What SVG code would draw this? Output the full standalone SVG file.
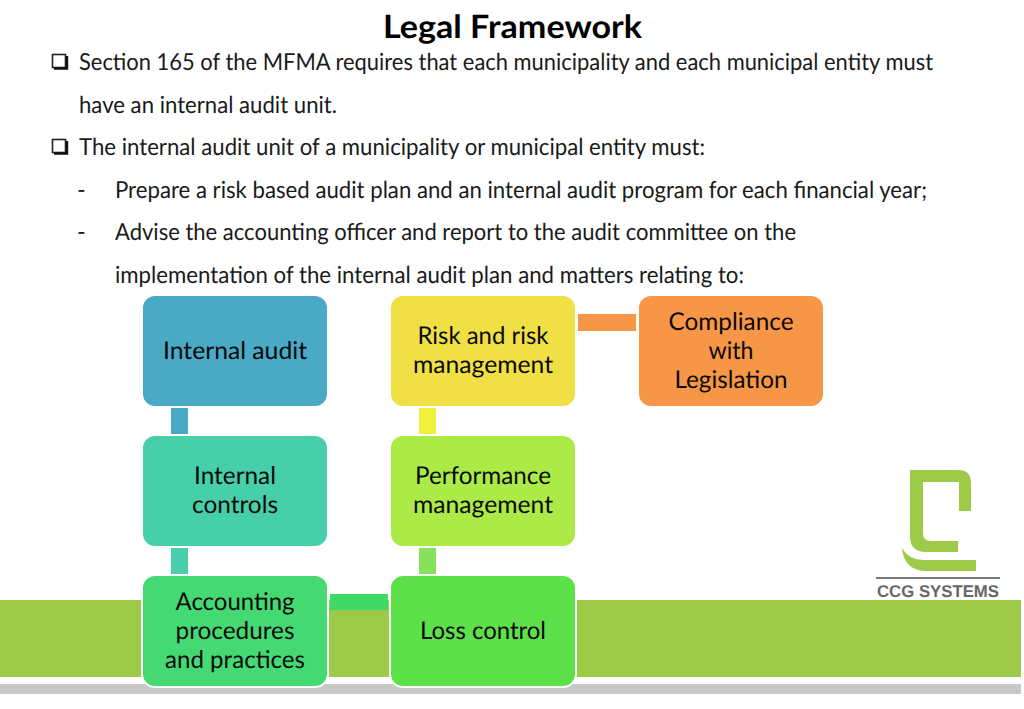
<svg xmlns="http://www.w3.org/2000/svg" width="1024" height="709" viewBox="0 0 1024 709">
<style>
text{font-family:Lato,"Open Sans","Liberation Sans",sans-serif;fill:#1a1a1a;text-rendering:geometricPrecision}
.b{font-size:23.5px}
.n{font-size:24.5px;text-anchor:middle;fill:#0a0a0a}
.t{font-size:32px;font-weight:700;fill:#000}
.box{stroke:#fff;stroke-width:2}
.chk{fill:#fff;stroke:#222;stroke-width:1.6}
.shd{fill:none;stroke:#111;stroke-width:2.4}
</style>
<rect width="1024" height="709" fill="#fff"/>
<g id="background">
<rect x="0" y="600" width="1021" height="77" fill="#9dcb49"/>
<rect x="0" y="684" width="1021" height="10" fill="#c8c8c8"/>
</g>
<g id="logo">
<path d="M910 470H958Q971 470 971 483V511H959V482H923V533Q923 541 931 541H958V552H926Q910 552 910 536Z" fill="#9dcb49"/>
<path d="M902 548Q909 560 923 560H976V571H927Q904 571 902 548Z" fill="#9dcb49"/>
<rect x="876" y="577" width="124" height="2" fill="#777"/>
<text x="877" y="596.500" font-size="17" font-weight="700" style="font-family:'Liberation Sans',sans-serif;fill:#666" textLength="122" lengthAdjust="spacingAndGlyphs">CCG SYSTEMS</text>
</g>
<g id="title"><text class="t" x="383" y="38" textLength="259" lengthAdjust="spacingAndGlyphs">Legal Framework</text></g>
<g id="text-body">
<rect class="chk" x="52.500" y="54.500" width="13" height="13"/><path class="shd" d="M67 56V68.500H54"/>
<text class="b" x="79" y="70" textLength="854" lengthAdjust="spacingAndGlyphs">Section 165 of the MFMA requires that each municipality and each municipal entity must</text>
<text class="b" x="79" y="113" textLength="258" lengthAdjust="spacingAndGlyphs">have an internal audit unit.</text>
<rect class="chk" x="52.500" y="139.500" width="13" height="13"/><path class="shd" d="M67 141V153.500H54"/>
<text class="b" x="79" y="155" textLength="626" lengthAdjust="spacingAndGlyphs">The internal audit unit of a municipality or municipal entity must:</text>
<text class="b" x="77" y="198">-</text>
<text class="b" x="115" y="198" textLength="812" lengthAdjust="spacingAndGlyphs">Prepare a risk based audit plan and an internal audit program for each financial year;</text>
<text class="b" x="77" y="240">-</text>
<text class="b" x="115" y="240" textLength="681" lengthAdjust="spacingAndGlyphs">Advise the accounting officer and report to the audit committee on the</text>
<text class="b" x="115" y="283" textLength="629" lengthAdjust="spacingAndGlyphs">implementation of the internal audit plan and matters relating to:</text>
</g>
<g id="connectors">
<rect x="171" y="408" width="17" height="26" fill="#4aa9c5"/>
<rect x="171" y="548" width="17" height="26" fill="#47cfa9"/>
<rect x="330" y="594" width="58" height="16" fill="#3fd968"/>
<rect x="330" y="610" width="58" height="67" fill="#9dcb49"/>
<rect x="419" y="548" width="17" height="26" fill="#85e25a"/>
<rect x="419" y="408" width="17" height="26" fill="#eef03a"/>
<rect x="578" y="314" width="58" height="17" fill="#f79646"/>
</g>
<g id="node-internal-audit"><rect class="box" x="142" y="295" width="186" height="112" rx="13" fill="#4aa9c5"/><text class="n" x="235" y="359" textLength="144" lengthAdjust="spacingAndGlyphs">Internal audit</text></g>
<g id="node-internal-controls"><rect class="box" x="142" y="435" width="186" height="112" rx="13" fill="#47cfa9"/><text class="n" x="235" y="484" textLength="82" lengthAdjust="spacingAndGlyphs">Internal</text><text class="n" x="235" y="513" textLength="86" lengthAdjust="spacingAndGlyphs">controls</text></g>
<g id="node-accounting"><rect class="box" x="142" y="575" width="186" height="112" rx="13" fill="#45d974"/><text class="n" x="235" y="610" textLength="119" lengthAdjust="spacingAndGlyphs">Accounting</text><text class="n" x="235" y="639" textLength="119" lengthAdjust="spacingAndGlyphs">procedures</text><text class="n" x="235" y="668" textLength="140" lengthAdjust="spacingAndGlyphs">and practices</text></g>
<g id="node-loss-control"><rect class="box" x="390" y="575" width="186" height="112" rx="13" fill="#5ee04a"/><text class="n" x="483" y="639" textLength="126" lengthAdjust="spacingAndGlyphs">Loss control</text></g>
<g id="node-performance"><rect class="box" x="390" y="435" width="186" height="112" rx="13" fill="#abea47"/><text class="n" x="483" y="484" textLength="136" lengthAdjust="spacingAndGlyphs">Performance</text><text class="n" x="483" y="513" textLength="140" lengthAdjust="spacingAndGlyphs">management</text></g>
<g id="node-risk"><rect class="box" x="390" y="295" width="186" height="112" rx="13" fill="#f0e046"/><text class="n" x="483" y="344" textLength="131" lengthAdjust="spacingAndGlyphs">Risk and risk</text><text class="n" x="483" y="373" textLength="140" lengthAdjust="spacingAndGlyphs">management</text></g>
<g id="node-compliance"><rect class="box" x="638" y="295" width="186" height="112" rx="13" fill="#f79646"/><text class="n" x="731" y="330" textLength="125" lengthAdjust="spacingAndGlyphs">Compliance</text><text class="n" x="731" y="359" textLength="45" lengthAdjust="spacingAndGlyphs">with</text><text class="n" x="731" y="388" textLength="113" lengthAdjust="spacingAndGlyphs">Legislation</text></g>
</svg>
